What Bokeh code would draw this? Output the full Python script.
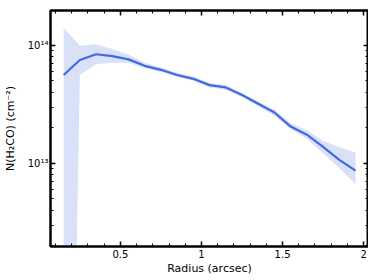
from bokeh.plotting import figure
from bokeh.models import LinearAxis, LogAxis, CustomJSTickFormatter, Range1d, FixedTicker
from bokeh.embed import file_html
from bokeh.resources import INLINE

radius = [0.15, 0.25, 0.35, 0.45, 0.55, 0.65, 0.75, 0.85, 0.95, 1.05,
          1.15, 1.25, 1.35, 1.45, 1.55, 1.65, 1.75, 1.85, 1.95]
n_h2co = [5.6e13, 7.5e13, 8.4e13, 8.1e13, 7.6e13, 6.7e13, 6.2e13, 5.6e13, 5.2e13, 4.6e13,
          4.4e13, 3.8e13, 3.2e13, 2.7e13, 2.05e13, 1.75e13, 1.38e13, 1.07e13, 8.7e12]
n_upper = [1.4e14, 9.9e13, 1.02e14, 9.3e13, 8.3e13, 7.1e13, 6.5e13, 5.85e13, 5.45e13, 4.8e13,
           4.6e13, 3.95e13, 3.35e13, 2.85e13, 2.2e13, 1.92e13, 1.55e13, 1.38e13, 1.23e13]
n_lower = [1.5e6, 5.6e13, 6.9e13, 7.1e13, 7.1e13, 6.4e13, 5.95e13, 5.4e13, 5.0e13, 4.4e13,
           4.2e13, 3.65e13, 3.05e13, 2.55e13, 1.95e13, 1.62e13, 1.22e13, 9.1e12, 6.7e12]

x_major = [0.5, 1.0, 1.5, 2.0]
x_minor = [0.1, 0.2, 0.3, 0.4, 0.6, 0.7, 0.8, 0.9, 1.1, 1.2, 1.3, 1.4, 1.6, 1.7, 1.8, 1.9]
y_major = [1e12, 1e13, 1e14]
y_minor = [k * d for d in (1e12, 1e13, 1e14) for k in range(2, 10)]

FONT = "DejaVu Sans"
COLOR = "#4169e1"

p = figure(width=368, height=277, y_axis_type="log",
           x_range=Range1d(0.069, 2.03), y_range=Range1d(1.98e12, 1.97e14),
           output_backend="svg", toolbar_location=None,
           min_border_left=49, min_border_right=0, min_border_top=10, min_border_bottom=0)

p.varea(x=radius, y1=n_lower, y2=n_upper, fill_color=COLOR, fill_alpha=0.2)
p.line(x=radius, y=n_h2co, line_color=COLOR, line_width=2.2)

p.grid.visible = False
p.outline_line_color = "black"
p.outline_line_width = 2

sup_code = """
const e = Math.round(Math.log10(tick));
const sup = {'0':'\u2070','1':'\u00b9','2':'\u00b2','3':'\u00b3','4':'\u2074','5':'\u2075','6':'\u2076','7':'\u2077','8':'\u2078','9':'\u2079','-':'\u207b'};
return '10' + String(e).split('').map(c => sup[c]).join('');
"""

xt = FixedTicker(ticks=x_major, minor_ticks=x_minor)
yt = FixedTicker(ticks=y_major, minor_ticks=y_minor)
blank = CustomJSTickFormatter(code="return '';")

def style(ax, labels=True):
    ax.axis_line_width = 2
    ax.axis_line_color = "black"
    ax.major_tick_in = 5
    ax.major_tick_out = 0
    ax.minor_tick_in = 3
    ax.minor_tick_out = 0
    ax.major_tick_line_width = 1.5
    ax.minor_tick_line_width = 1
    ax.major_label_text_font = FONT
    ax.major_label_text_font_size = "10px"
    ax.major_label_text_color = "black"
    ax.axis_label_text_font = FONT
    ax.axis_label_text_font_size = "11px"
    ax.axis_label_text_font_style = "normal"
    ax.axis_label_text_color = "black"
    if not labels:
        ax.formatter = blank
        ax.major_label_standoff = 0

xa = p.xaxis[0]
xa.ticker = xt
xa.axis_label = "Radius (arcsec)"
xa.axis_label_standoff = 1
xa.major_label_standoff = 3
style(xa)

ya = p.yaxis[0]
ya.ticker = yt
ya.formatter = CustomJSTickFormatter(code=sup_code)
ya.axis_label = "N(H\u2082CO) (cm\u207b\u00b2)"
ya.axis_label_standoff = 8
ya.major_label_standoff = 2
style(ya)

top = LinearAxis(ticker=xt)
style(top, labels=False)
p.add_layout(top, "above")

right = LogAxis(ticker=yt)
style(right, labels=False)
p.add_layout(right, "right")

open("out.html", "w").write(file_html(p, INLINE))
